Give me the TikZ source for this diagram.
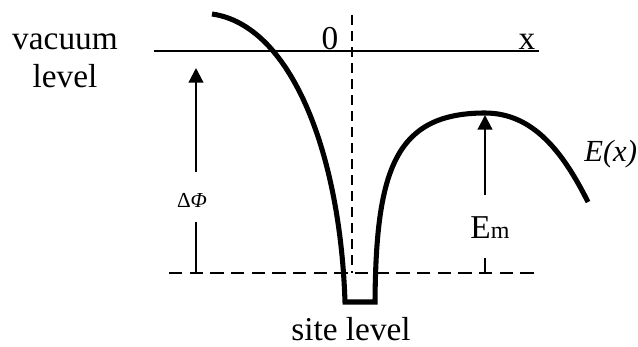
\documentclass[tikz,border=0pt]{standalone}
\usepackage{fontspec}
\setmainfont{Liberation Serif}
\usetikzlibrary{arrows.meta}
\begin{document}
\begin{tikzpicture}[x=0.75pt,y=-0.75pt,
  thin line/.style={line width=1.6pt},
  hdash/.style={line width=1.6pt, dash pattern=on 10pt off 5.5pt},
  vdash/.style={line width=1.6pt, dash pattern=on 7.5pt off 4.5pt},
  upar/.style={line width=1.6pt, -{Triangle[length=11pt,width=11pt]}},
  curvestyle/.style={line width=3.8pt, line join=miter},
  lbl/.style={inner sep=0pt, anchor=base, font=\fontsize{25}{25}\selectfont}]
\useasboundingbox (0,0) rectangle (638,346);
% levels
\coordinate (vacL) at (154,51);
\coordinate (vacR) at (539,51);
\draw[thin line] (vacL) -- (vacR);
\coordinate (siteL) at (169,273);
\coordinate (siteR) at (537,273);
\draw[hdash] (siteL) -- (siteR);
\coordinate (zeroT) at (352,15);
\coordinate (zeroB) at (352,273);
\draw[vdash] (zeroT) -- (zeroB);
% potential curve
\draw[curvestyle] (212,14) .. controls (290,25) and (340,150) .. (345,302)
  -- (375,302) .. controls (376,170) and (395,113) .. (485,113)
  .. controls (533,113) and (563,152) .. (588,202);
% Delta Phi arrow
\coordinate (dpTip) at (196,68);
\coordinate (dpA) at (196,172);
\coordinate (dpB) at (196,222);
\coordinate (dpBot) at (196,273);
\draw[upar] (dpA) -- (dpTip);
\draw[thin line] (dpB) -- (dpBot);
\node[inner sep=0pt, anchor=base, font=\fontsize{16}{16}\selectfont] (dphi) at (192,207) {Δ\textit{Φ}};
% Em arrow
\coordinate (emTip) at (485,115);
\coordinate (emA) at (485,195);
\coordinate (emB) at (485,258);
\coordinate (emBot) at (485,273);
\draw[upar] (emA) -- (emTip);
\draw[thin line] (emB) -- (emBot);
\node[lbl] (em) at (490,238) {E{\fontsize{18}{18}\selectfont m}};
% labels
\node[lbl] (vac1) at (65,50) {vacuum};
\node[lbl] (vac2) at (65,87) {level};
\node[lbl] (zero) at (330,50) {0};
\node[lbl] (xlab) at (527,50) {x};
\node[lbl, anchor=base west, font=\fontsize{23}{23}\selectfont\itshape] (ex) at (584,161) {E(x)};
\node[lbl] (site) at (351,340) {site level};
\end{tikzpicture}
\end{document}
